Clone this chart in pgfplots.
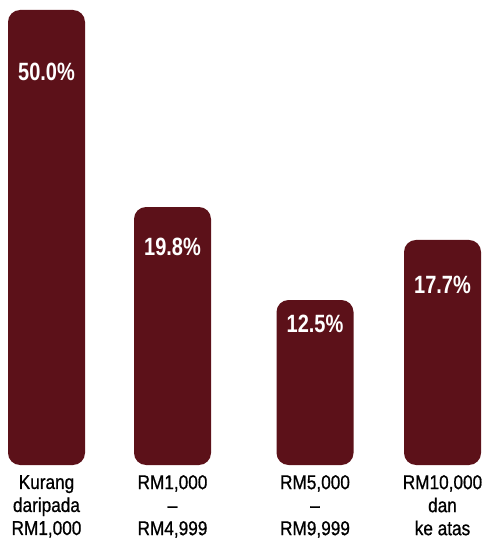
\documentclass[border=0pt]{standalone}
\usepackage{pgfplots}
\pgfplotsset{compat=1.18}
\usepackage{pgfplotstable}
\usepackage{fontspec}
\setmainfont{Liberation Sans}
\newfontfamily\barfont[FakeStretch=0.8, Ligatures=TeX]{Liberation Sans}
\newfontfamily\catfont[FakeStretch=0.86, FakeBold=0.8, Ligatures=TeX]{Liberation Sans}
\definecolor{maroon}{HTML}{5C1119}

% visual bar heights (axis units) and label values
\pgfplotstableread{
x      h      ly     lab
46.5   50.00  43.2   50.0\%
172.5  28.35  24.0   19.8\%
315    18.13  15.5   12.5\%
442.5  24.73  19.8   17.7\%
}\bars

\begin{document}
\begin{tikzpicture}
\begin{axis}[
  scale only axis,
  width=489pt, height=465pt,
  xmin=0, xmax=489, ymin=0, ymax=51.1,
  axis line style={draw=none},
  ytick=\empty,
  xtick={46.5,172.5,315,442.5},
  xticklabels={{Kurang\\daripada\\RM1,000},{RM1,000\\\textendash\\RM4,999},{RM5,000\\\textendash\\RM9,999},{RM10,000\\dan\\ke atas}},
  major tick length=0pt,
  xticklabel style={align=center, inner sep=0pt, anchor=north, yshift=-10pt,
    font=\catfont\fontsize{20pt}{23pt}\selectfont, text=black},
  clip=false,
]
\addplot[ybar, bar width=77pt, fill=maroon, draw=none, rounded corners=12pt]
  table[x=x, y=h] {\bars};
\addplot[draw=none, mark=none, nodes near coords, point meta=explicit symbolic,
  every node near coord/.append style={anchor=center, inner sep=0pt, text=white,
    font=\barfont\bfseries\fontsize{25pt}{30pt}\selectfont}]
  table[x=x, y=ly, meta=lab] {\bars};
\end{axis}
\pgfresetboundingbox
\path[use as bounding box] (0,-75pt) rectangle (489pt,465pt);
\end{tikzpicture}
\end{document}
